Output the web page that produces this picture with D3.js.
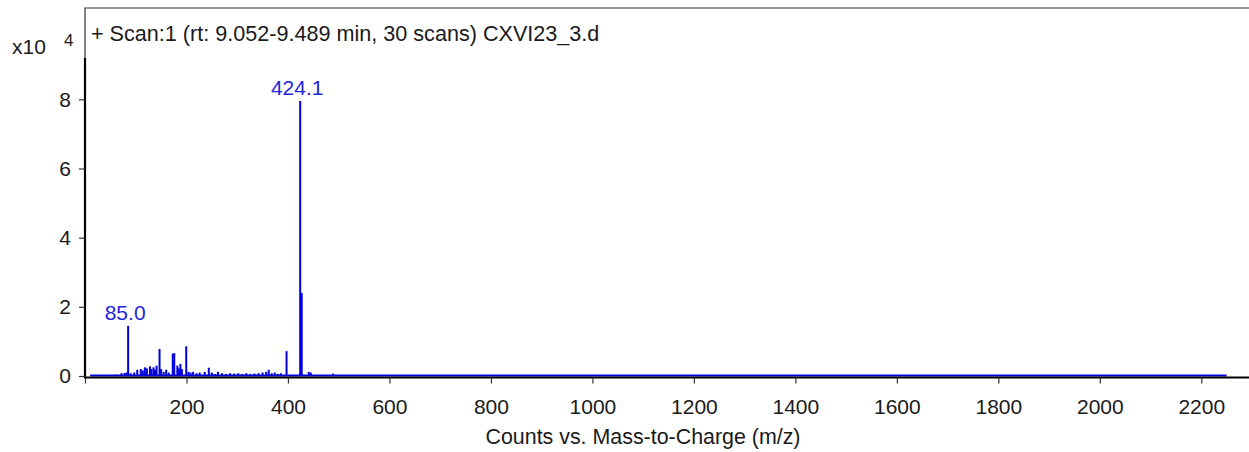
<!DOCTYPE html>
<html>
<head>
<meta charset="utf-8">
<script src="https://cdn.jsdelivr.net/npm/d3@7"></script>
<style>
  html, body { margin: 0; padding: 0; background: #fff; }
  svg { display: block; font-family: "Liberation Sans", Arial, sans-serif; }
</style>
</head>
<body>
<svg id="chart" width="1249" height="452"></svg>
<script>
// ---- data (intensity in units of 10^4 counts) ----
const peakMz = [60, 72, 78, 82, 85.0, 90, 97, 103, 110, 114, 118, 122, 128, 131, 135, 138, 141, 146.9, 150, 155, 160, 165, 172.9, 175.9, 182, 185, 188, 191, 199.5, 204, 208, 213, 220, 226, 236, 244, 250, 256, 262, 270, 278, 286, 294, 302, 310, 318, 326, 334, 342, 350, 357, 362, 368, 374, 380, 386, 397.2, 424.1, 427.1, 441, 445, 473, 489];
const peakInt = [0.04, 0.08, 0.09, 0.10, 1.45, 0.08, 0.10, 0.18, 0.20, 0.16, 0.25, 0.22, 0.28, 0.20, 0.25, 0.18, 0.30, 0.78, 0.20, 0.12, 0.18, 0.10, 0.65, 0.66, 0.30, 0.22, 0.35, 0.20, 0.86, 0.12, 0.10, 0.12, 0.08, 0.10, 0.12, 0.24, 0.10, 0.06, 0.12, 0.08, 0.06, 0.08, 0.07, 0.08, 0.06, 0.08, 0.06, 0.07, 0.08, 0.10, 0.12, 0.18, 0.08, 0.10, 0.06, 0.08, 0.72, 7.95, 2.40, 0.12, 0.10, 0.03, 0.07];
const baselineRange = [10, 2250];
const peakLabels = [{ mz: 85.0, text: "85.0" }, { mz: 424.1, text: "424.1" }];
const xTicks = [0, 200, 400, 600, 800, 1000, 1200, 1400, 1600, 1800, 2000, 2200];
const yTicks = [0, 2, 4, 6, 8];
const titleText = "+ Scan:1 (rt: 9.052-9.489 min, 30 scans) CXVI23_3.d";
const xTitle = "Counts vs. Mass-to-Charge (m/z)";

// ---- layout ----
const svg = d3.select("#chart");
const mL = 85, mR = 1249, mT = 8, mB = 376;
const x = d3.scaleLinear().domain([0, 2294]).range([mL, mR]);
const y = d3.scaleLinear().domain([0, 10.64]).range([mB, mT]);
const yAxisTop = y(9.2);
const lineColor = "#0000dc";
const labelColor = "#2424dc";
const textColor = "#1a1a1a";
const fontPx = 21;

// frame (thin)
svg.append("path")
  .attr("d", `M${mL},${yAxisTop}V${mT}H${mR}`)
  .attr("fill", "none").attr("stroke", "#333").attr("stroke-width", 1.2);

// baseline
svg.append("line")
  .attr("x1", x(baselineRange[0])).attr("x2", x(baselineRange[1]))
  .attr("y1", y(0) - 0.5).attr("y2", y(0) - 0.5)
  .attr("stroke", lineColor).attr("stroke-width", 2);

// peaks
svg.append("g").selectAll("line").data(peakMz).join("line")
  .attr("x1", d => x(d)).attr("x2", d => x(d))
  .attr("y1", y(0)).attr("y2", (d, i) => y(peakInt[i]))
  .attr("stroke", lineColor).attr("stroke-width", 2);

// peak labels
svg.append("g").selectAll("text").data(peakLabels).join("text")
  .attr("x", d => x(d.mz) - 3)
  .attr("y", d => y(peakInt[peakMz.indexOf(d.mz)]) - 6)
  .attr("text-anchor", "middle")
  .attr("fill", labelColor).attr("font-size", fontPx)
  .text(d => d.text);

// x axis
const xAxis = d3.axisBottom(x).tickValues(xTicks)
  .tickFormat(d => d === 0 ? "" : d).tickSize(6).tickPadding(16);
const gx = svg.append("g").attr("transform", `translate(0,${mB + 1.5})`).call(xAxis);
gx.select(".domain").attr("d", `M${mL},0H${mR}`).attr("stroke", "#000").attr("stroke-width", 2.2);
gx.selectAll(".tick line").attr("stroke", "#333").attr("stroke-width", 1.2);
gx.selectAll(".tick text").attr("font-size", fontPx).attr("fill", textColor)
  .attr("font-family", "Liberation Sans, Arial, sans-serif");

// y axis
const yAxis = d3.axisLeft(y).tickValues(yTicks).tickSize(6).tickPadding(8);
const gy = svg.append("g").attr("transform", `translate(${mL},0)`).call(yAxis);
gy.select(".domain").attr("d", `M0,${yAxisTop}V${mB + 2.5}`).attr("stroke", "#000").attr("stroke-width", 2.2);
gy.selectAll(".tick line").attr("stroke", "#333").attr("stroke-width", 1.2);
gy.selectAll(".tick text").attr("font-size", fontPx).attr("fill", textColor)
  .attr("font-family", "Liberation Sans, Arial, sans-serif");

// exponent label
svg.append("text").attr("x", 12).attr("y", 54).attr("font-size", fontPx).attr("fill", textColor).text("x10");
svg.append("text").attr("x", 64).attr("y", 46).attr("font-size", 17).attr("fill", textColor).text("4");

// title
svg.append("text").attr("x", 91).attr("y", 41).attr("font-size", 21.6).attr("fill", textColor).text(titleText);

// x title
svg.append("text").attr("x", 643).attr("y", 444)
  .attr("text-anchor", "middle").attr("font-size", 21.4).attr("fill", textColor).text(xTitle);
</script>
</body>
</html>
